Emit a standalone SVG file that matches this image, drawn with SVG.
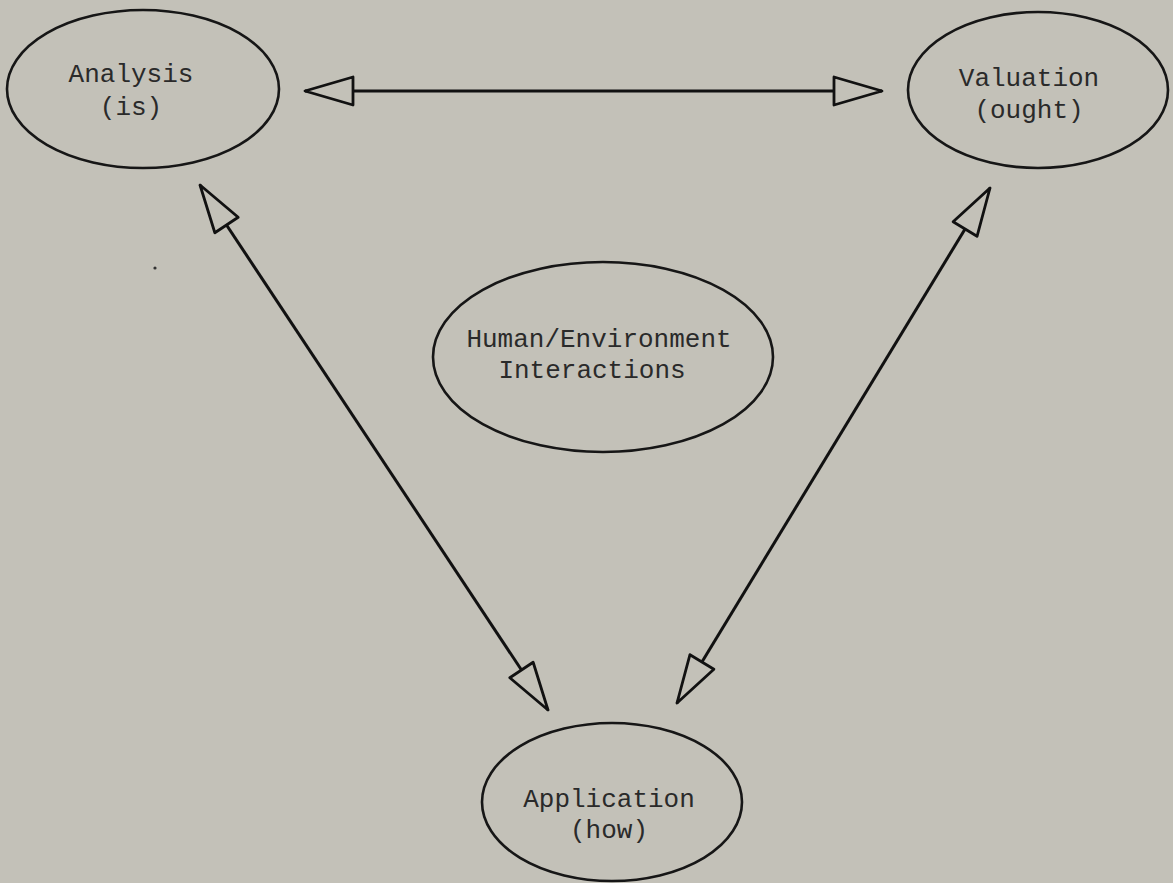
<svg xmlns="http://www.w3.org/2000/svg" width="1173" height="883" viewBox="0 0 1173 883">
<style>
.node ellipse{fill:none;stroke:#161616;stroke-width:2.6}
.node text{font-family:"Liberation Mono","Courier New",monospace;font-size:26px;fill:#2a2a2a;text-anchor:middle}
.conn line{stroke:#111;stroke-width:3}
</style>
<defs>
<marker id="ah" viewBox="0 0 54 34" refX="51" refY="17" markerWidth="54" markerHeight="34" markerUnits="userSpaceOnUse" orient="auto-start-reverse">
<path d="M3,3 L51,17 L3,31 Z" fill="#c3c1b8" stroke="#111" stroke-width="2.8" stroke-linejoin="round"/>
</marker>
</defs>
<rect width="1173" height="883" fill="#c3c1b8"/>
<g class="conn">
<line x1="305" y1="91" x2="882" y2="91" marker-start="url(#ah)" marker-end="url(#ah)"/>
<line x1="200" y1="185" x2="548" y2="710" marker-start="url(#ah)" marker-end="url(#ah)"/>
<line x1="990" y1="188" x2="677" y2="703" marker-start="url(#ah)" marker-end="url(#ah)"/>
</g>
<g id="analysis" class="node">
<ellipse cx="143" cy="89" rx="136" ry="79"/>
<text x="131" y="82">Analysis</text>
<text x="131" y="115">(is)</text>
</g>
<g id="valuation" class="node">
<ellipse cx="1038" cy="90" rx="130" ry="78"/>
<text x="1029" y="86">Valuation</text>
<text x="1029" y="118">(ought)</text>
</g>
<g id="human" class="node">
<ellipse cx="603" cy="357" rx="170" ry="95"/>
<text x="599" y="347">Human/Environment</text>
<text x="592" y="378">Interactions</text>
</g>
<g id="application" class="node">
<ellipse cx="612" cy="802" rx="130" ry="79"/>
<text x="609" y="807">Application</text>
<text x="609" y="838">(how)</text>
</g>
<circle cx="155" cy="268" r="1.6" fill="#333"/>
</svg>
